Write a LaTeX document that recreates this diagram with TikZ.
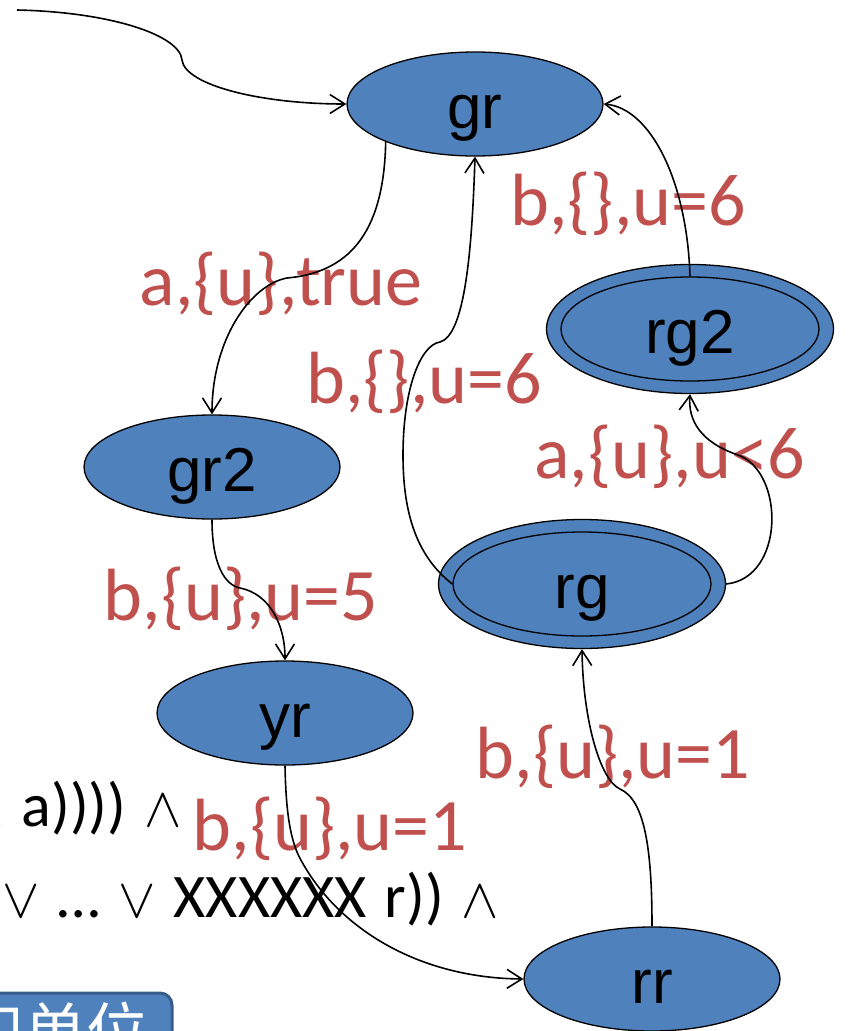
\documentclass[tikz,border=0pt]{standalone}
\usepackage{fontspec}
\setmainfont{Carlito}
\newfontfamily\arialf{Liberation Sans}
\newfontfamily\cjkf{Noto Sans CJK SC}
\usetikzlibrary{arrows.meta,shapes.geometric}
\definecolor{nodeblue}{HTML}{4F81BD}
\definecolor{lblred}{HTML}{C0504D}
\definecolor{btnborder}{HTML}{385D8A}
\newcommand{\sy}[1]{\scalebox{5.6}{\fontsize{10}{12}\selectfont$#1$}}
\newcommand{\gap}{\hspace{18pt}}
\begin{document}
\begin{tikzpicture}[x=1pt,y=-1pt,
  stnode/.style={ellipse,draw=black,line width=1.3pt,fill=nodeblue,inner sep=0pt,
    minimum width=256pt,minimum height=104pt,
    font=\arialf\fontsize{62}{62}\selectfont,text height=48pt,text depth=0pt},
  accnode/.style={stnode,minimum width=287pt,minimum height=129pt},
  innerell/.style={ellipse,draw=black,line width=1.3pt,inner sep=0pt,
    minimum width=258pt,minimum height=104pt},
  lbl/.style={anchor=base,text=lblred,inner sep=0pt,font=\fontsize{74}{74}\selectfont},
  txt/.style={inner sep=0pt,font=\fontsize{62}{62}\selectfont},
  conn/.style={line width=1.6pt,-{Straight Barb[length=15pt,width=19pt]}}
]
\useasboundingbox (0,0) rectangle (847,1031);
\clip (0,0) rectangle (847,1031);

% button (cut off at the bottom-left)
\draw[fill=nodeblue,draw=btnborder,line width=3pt,rounded corners=12pt] (-40,993) rectangle (172,1090);
\node[anchor=base east,inner sep=0pt,text=white,font=\cjkf\fontsize{62}{62}\selectfont] (btntext) at (149,1054) {和单位};

% black formula text
\node[txt,anchor=base east] (fa) at (182,826) {\sy{\wedge}\gap a))))\gap\sy{\wedge}};
\node[txt,anchor=base west] (fb) at (2,917) {\sy{\vee}\gap…\gap\sy{\vee}\gap XXXXXX\gap r))\gap\sy{\wedge}};

% states
\node[stnode] (gr) at (475,104) {gr};
\node[stnode] (gr2) at (212,467) {gr2};
\node[stnode] (yr) at (285,713) {yr};
\node[stnode] (rr) at (652,979) {rr};
\node[accnode] (rg) at (582,584) {rg};
\node[innerell] (rgi) at (rg.center) {};
\node[accnode] (rg2) at (690,329) {rg2};
\node[innerell] (rg2i) at (rg2.center) {};

% labels
\node[lbl] (l1) at (628,225) {b,\{\},u=6};
\node[lbl] (l2) at (281,305) {a,\{u\},true};
\node[lbl] (l3) at (424,403) {b,\{\},u=6};
\node[lbl] (l4) at (670,478) {a,\{u\},u<6};
\node[lbl] (l5) at (241,620) {b,\{u\},u=5};
\node[lbl] (l6) at (613,778) {b,\{u\},u=1};
\node[lbl] (l7) at (330,850) {b,\{u\},u=1};

% connectors
\coordinate (init) at (17,10);
\draw[conn] (init) .. controls (110,12) and (180,35) .. (182,60)
  .. controls (185,85) and (260,104) .. (gr.west);
\draw[conn] (gr.203) .. controls (384,225) and (355,272) .. (287,278)
  .. controls (250,285) and (212,340) .. (gr2.north);
\draw[conn] (gr2.south) .. controls (212,565) and (225,585) .. (240,588)
  .. controls (270,594) and (285,625) .. (yr.north);
\draw[conn] (yr.south) .. controls (286,820) and (292,845) .. (302,862)
  .. controls (340,930) and (420,978) .. (rr.west);
\draw[conn] (rr.north) .. controls (652,850) and (645,800) .. (620,789)
  .. controls (600,780) and (583,720) .. (rg.south);
\draw[conn] (rgi.west) .. controls (415,555) and (403,510) .. (403,455)
  .. controls (403,390) and (420,345) .. (440,342)
  .. controls (465,335) and (472,250) .. (gr.south);
\draw[conn] (rg.east) .. controls (785,578) and (785,472) .. (738,455)
  .. controls (700,442) and (688,420) .. (rg2.south);
\draw[conn] (rg2i.north) .. controls (687,180) and (650,108) .. (gr.east);
\end{tikzpicture}
\end{document}
